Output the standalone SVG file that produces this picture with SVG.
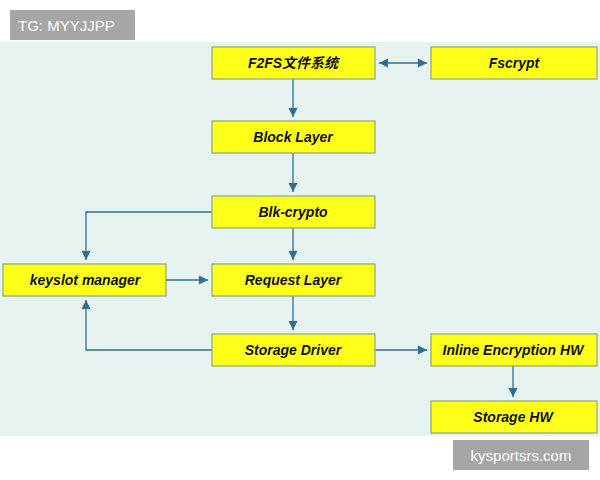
<svg xmlns="http://www.w3.org/2000/svg" width="600" height="480" viewBox="0 0 600 480">
<style>
.n{fill:#ffff1a;stroke:#8aa878;stroke-width:1.2}
.t{font-family:"Liberation Sans","Noto Sans CJK SC",sans-serif;font-size:14px;font-weight:bold;font-style:italic;fill:#111;text-anchor:middle;dominant-baseline:central}
.e{stroke:#2f6f96;stroke-width:1.3;fill:none;marker-end:url(#a)}
</style>
<defs><marker id="a" viewBox="0 0 10 10" refX="10" refY="5" markerWidth="7" markerHeight="7" orient="auto-start-reverse"><path d="M0,0L10,5L0,10z" fill="#2f6f96"/></marker></defs>
<rect width="600" height="480" fill="#fff"/>
<rect x="0" y="42" width="600" height="394" fill="#e6f3f0"/>
<g id="wm1"><rect x="10" y="10" width="125" height="30" fill="#a6a6a6"/><text x="18" y="25" font-family="Liberation Sans,sans-serif" font-size="15" fill="#fff" dominant-baseline="central">TG: MYYJJPP</text></g>
<g id="edges">
<path class="e" d="M379,63H427" marker-start="url(#a)"/>
<path class="e" d="M293,79V117"/>
<path class="e" d="M293,153V192"/>
<path class="e" d="M293,228V260"/>
<path class="e" d="M212,212H86V260"/>
<path class="e" d="M166,280H208"/>
<path class="e" d="M293,296V330"/>
<path class="e" d="M212,350H86V300"/>
<path class="e" d="M375,350H427"/>
<path class="e" d="M513,366V397"/>
</g>
<g id="f2fs"><rect class="n" x="212" y="47" width="163" height="32"/><text class="t" x="293" y="63" font-style="normal">F2FS文件系统</text></g>
<g id="fscrypt"><rect class="n" x="431" y="47" width="166" height="32"/><text class="t" x="514" y="63">Fscrypt</text></g>
<g id="block"><rect class="n" x="212" y="121" width="163" height="32"/><text class="t" x="293" y="137">Block Layer</text></g>
<g id="blkcrypto"><rect class="n" x="212" y="196" width="163" height="32"/><text class="t" x="293" y="212">Blk-crypto</text></g>
<g id="keyslot"><rect class="n" x="3" y="264" width="163" height="32"/><text class="t" x="85" y="280">keyslot manager</text></g>
<g id="request"><rect class="n" x="212" y="264" width="163" height="32"/><text class="t" x="293" y="280">Request Layer</text></g>
<g id="driver"><rect class="n" x="212" y="334" width="163" height="32"/><text class="t" x="293" y="350">Storage Driver</text></g>
<g id="inline"><rect class="n" x="431" y="334" width="166" height="32"/><text class="t" x="513" y="350">Inline Encryption HW</text></g>
<g id="hw"><rect class="n" x="431" y="401" width="166" height="32"/><text class="t" x="513" y="417">Storage HW</text></g>
<g id="wm2"><rect x="453" y="440" width="136" height="30" fill="#a6a6a6"/><text x="521" y="455" text-anchor="middle" font-family="Liberation Sans,sans-serif" font-size="15" fill="#fff" dominant-baseline="central">kysportsrs.com</text></g>
</svg>
